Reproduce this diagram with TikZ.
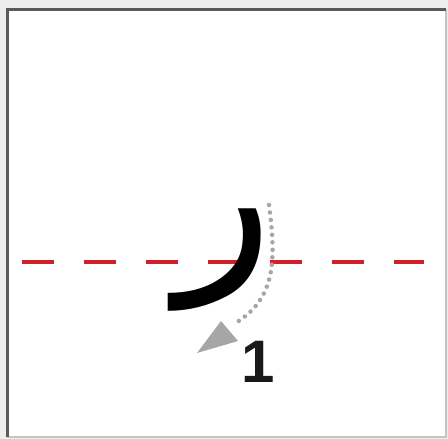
\documentclass[tikz,border=0pt]{standalone}
\usepackage{fontspec}
\TeXXeTstate=1
\newfontfamily\arabicfont[Script=Arabic]{DejaVu Sans}
\newfontfamily\labelfont{Liberation Sans}
\definecolor{bgout}{HTML}{EDEDED}
\definecolor{framedark}{HTML}{5A5A5A}
\definecolor{framelight}{HTML}{C4C4C4}
\definecolor{basered}{HTML}{D0202A}
\definecolor{guidegray}{HTML}{A6A6A6}
\tikzset{
  baseline guide/.style={draw=basered, line width=4.5pt, dash pattern=on 32pt off 30pt},
  dotted guide/.style={draw=guidegray, line width=4.5pt, line cap=round, dash pattern=on 0pt off 7.5pt},
  letterglyph/.style={inner sep=0pt, anchor=base, font=\arabicfont\fontsize{200}{200}\selectfont, text=black},
  numlabel/.style={inner sep=0pt, font=\labelfont\fontsize{60}{60}\selectfont, text=black!90}
}
\begin{document}
\begin{tikzpicture}[x=1pt,y=-1pt]
\useasboundingbox (0,0) rectangle (448,439);
\fill[bgout] (0,0) rectangle (448,439);
\fill[white] (7,9) rectangle (446,437);
\draw[framelight, line width=1.5pt] (446,9) -- (446,437) -- (7,437);
\draw[framedark, line width=3pt] (7.5,437) -- (7.5,9.5) -- (446,9.5);
\draw[baseline guide] (22,262) -- (424,262);
\node[letterglyph] (reh) at (225,262) {\beginR ر\endR};
\draw[dotted guide] (269,205) .. controls (277,265) and (274,300) .. (234,324);
\fill[guidegray] (221,321) -- (238,341) -- (197,353) -- cycle;
\node[numlabel] (one) at (258,362) {\textbf{1}};
\end{tikzpicture}
\end{document}
